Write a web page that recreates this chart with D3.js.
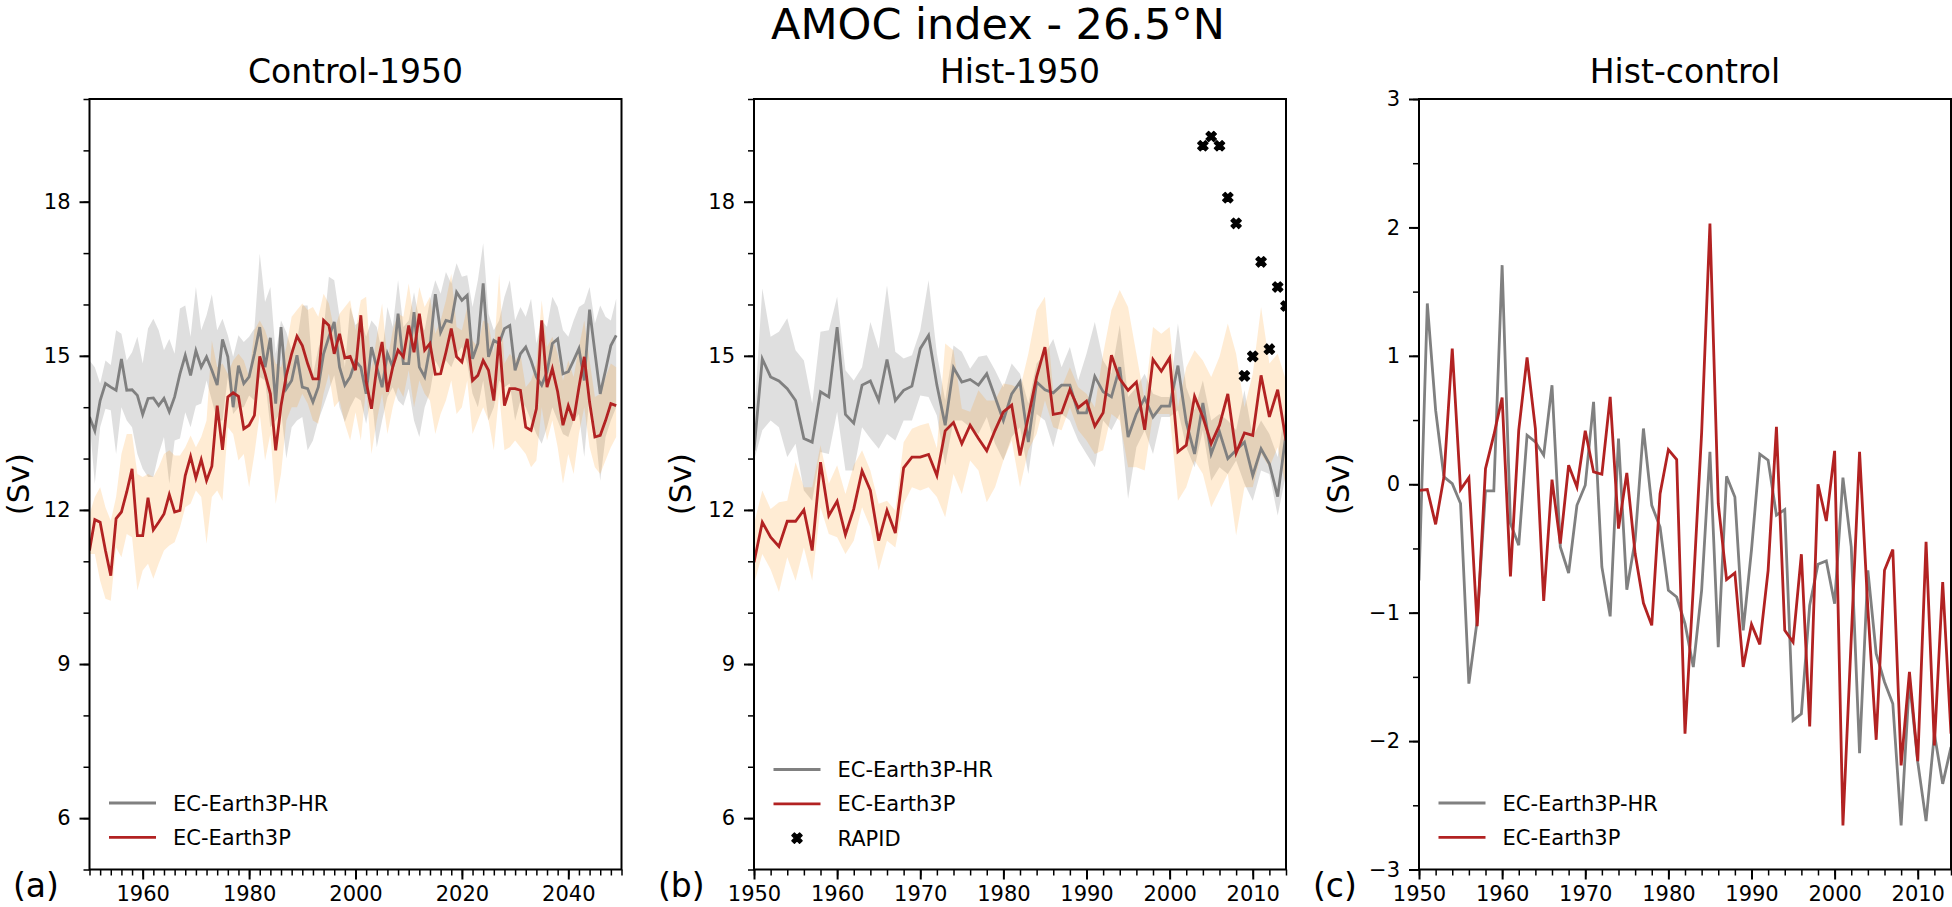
<!DOCTYPE html>
<html>
<head>
<meta charset="utf-8">
<script src="https://cdn.jsdelivr.net/npm/d3@7"></script>
<style>
  body { margin: 0; background: #fff; }
  text { font-family: "DejaVu Sans", sans-serif; fill: #000; }
</style>
</head>
<body>
<div id="chart"></div>
<script>
const w = 1952, h = 907
const plotTop = 99, plotBottom = 869.5, pw = 532

// years on the x axis
const ctrlYears = d3.range(1950, 2050)
const histYears = d3.range(1950, 2015)
const rapidYears = d3.range(2004, 2015)

// tick labels
const ctrlXTicks = [1960, 1980, 2000, 2020, 2040]
const histXTicks = [1950, 1960, 1970, 1980, 1990, 2000, 2010]
const svTicks = [6, 9, 12, 15, 18]
const diffTicks = [-3, -2, -1, 0, 1, 2, 3]

// Control-1950, EC-Earth3P-HR (mean, upper, lower)
const ctrlHR = [13.81, 13.54, 14.13, 14.46, 14.39, 14.33, 14.94, 14.33, 14.34, 14.23,
  13.86, 14.17, 14.18, 14.03, 14.17, 13.91, 14.2, 14.65, 15.01, 14.62,
  15.1, 14.78, 14.98, 14.72, 14.43, 15.32, 14.98, 14.0, 14.81, 14.46,
  14.59, 15.04, 15.56, 14.78, 15.35, 14.07, 15.56, 14.36, 14.52, 15.01,
  14.39, 14.36, 14.1, 14.39, 15.04, 15.37, 15.66, 14.78, 14.43, 14.59,
  14.9, 14.78, 14.26, 15.17, 14.78, 14.39, 15.04, 14.78, 15.82, 14.85,
  14.85, 15.85, 14.78, 14.59, 15.17, 16.2, 15.46, 15.69, 15.66, 16.24,
  16.08, 16.18, 14.94, 15.24, 16.41, 14.98, 15.3, 15.24, 15.53, 15.59,
  14.72, 15.04, 15.17, 14.91, 14.59, 14.43, 14.69, 15.24, 15.33, 14.65,
  14.69, 14.91, 15.14, 14.52, 15.9, 15.07, 14.26, 14.72, 15.2, 15.4]
const ctrlHRHi = [14.91, 14.78, 14.46, 14.91, 14.82, 15.5, 15.43, 14.91, 15.07, 15.37,
  14.85, 15.53, 15.72, 15.5, 15.11, 15.33, 15.04, 15.92, 15.98, 15.37,
  16.34, 15.5, 15.79, 16.2, 15.5, 15.72, 15.4, 14.98, 15.4, 15.27,
  15.37, 15.53, 16.99, 16.05, 16.34, 15.04, 15.69, 15.46, 15.11, 15.27,
  15.98, 15.98, 14.62, 15.14, 15.5, 16.54, 16.47, 15.76, 14.78, 15.95,
  15.6, 15.69, 15.37, 15.69, 15.56, 15.04, 15.95, 15.56, 16.47, 15.56,
  15.69, 16.24, 15.69, 15.5, 16.08, 16.47, 16.21, 16.63, 16.41, 16.8,
  16.54, 16.57, 15.95, 16.47, 17.19, 15.82, 15.5, 15.69, 16.15, 16.47,
  15.69, 15.95, 15.76, 16.11, 15.24, 15.69, 15.56, 16.15, 15.95, 15.5,
  15.37, 15.69, 15.95, 16.02, 16.34, 15.63, 15.98, 15.76, 15.69, 16.11]
const ctrlHRLo = [13.74, 12.51, 13.61, 13.97, 13.94, 13.09, 14.0, 13.74, 13.61, 13.09,
  12.8, 12.64, 12.64, 13.09, 13.42, 12.51, 13.35, 13.39, 13.9, 13.61,
  14.03, 14.07, 14.52, 14.13, 13.74, 13.74, 14.59, 13.87, 14.0, 14.0,
  14.23, 14.13, 14.59, 14.52, 13.61, 13.74, 13.94, 13.0, 13.61, 13.74,
  13.81, 13.16, 13.35, 13.74, 14.03, 14.33, 14.62, 14.0, 13.71, 14.0,
  14.2, 14.13, 13.68, 14.26, 13.22, 13.74, 14.2, 14.39, 14.13, 14.03,
  14.36, 13.74, 13.42, 14.0, 14.29, 14.91, 14.72, 14.91, 14.78, 15.04,
  15.17, 14.85, 14.26, 14.0, 14.52, 13.74, 14.0, 14.52, 14.39, 14.46,
  13.74, 14.13, 14.0, 13.74, 13.48, 13.29, 13.61, 14.0, 13.74, 13.48,
  13.42, 13.74, 13.87, 13.03, 14.26, 13.61, 12.57, 13.42, 13.74, 14.0]

// Control-1950, EC-Earth3P
const ctrlLR = [11.21, 11.81, 11.76, 11.21, 10.72, 11.83, 11.96, 12.35, 12.8, 11.5,
  11.5, 12.24, 11.61, 11.76, 11.92, 12.3, 11.96, 11.99, 12.67, 13.04,
  12.62, 12.98, 12.57, 12.85, 14.03, 13.17, 14.2, 14.28, 14.21, 13.58,
  13.65, 13.84, 14.99, 14.65, 14.26, 13.16, 14.03, 14.62, 15.04, 15.38,
  15.2, 14.85, 14.55, 14.55, 15.69, 15.59, 15.04, 15.43, 14.96, 14.99,
  14.72, 15.79, 14.5, 13.97, 14.78, 15.27, 14.3, 14.78, 15.11, 14.98,
  15.59, 15.07, 15.82, 15.11, 15.24, 14.64, 14.65, 15.07, 15.53, 14.98,
  14.88, 15.33, 14.52, 14.62, 14.91, 14.72, 14.13, 15.37, 14.03, 14.36,
  14.36, 14.33, 13.61, 13.55, 13.97, 15.69, 14.39, 14.75, 14.3, 13.65,
  14.03, 13.74, 14.39, 14.98, 14.1, 13.42, 13.45, 13.74, 14.07, 14.03]
const ctrlLRHi = [11.92, 12.25, 12.44, 12.05, 11.79, 12.25, 13.09, 13.48, 13.48, 12.7,
  12.64, 12.7, 12.64, 12.83, 13.09, 13.16, 13.06, 13.06, 13.22, 13.45,
  13.22, 13.42, 13.74, 15.3, 14.78, 14.85, 14.65, 14.91, 15.04, 14.91,
  14.59, 15.5, 15.69, 15.5, 15.17, 14.85, 14.78, 15.17, 15.76, 15.89,
  16.02, 15.89, 15.95, 15.76, 16.21, 16.02, 15.5, 15.82, 15.95, 16.08,
  15.5, 16.08, 16.15, 14.72, 15.37, 16.02, 14.91, 15.5, 15.82, 15.76,
  16.41, 15.69, 16.34, 15.95, 16.15, 15.43, 15.69, 16.08, 16.6, 15.56,
  15.5, 15.95, 15.3, 15.17, 15.69, 15.63, 15.04, 16.6, 14.85, 15.04,
  14.91, 15.04, 14.39, 14.52, 14.85, 16.08, 15.17, 15.37, 15.04, 14.52,
  14.91, 14.59, 15.17, 15.69, 14.91, 14.2, 14.26, 14.59, 14.85, 14.78]
const ctrlLRLo = [11.14, 11.14, 10.62, 10.27, 10.23, 11.27, 11.08, 11.53, 11.47, 10.43,
  10.82, 10.95, 10.66, 10.95, 11.21, 11.31, 11.37, 11.66, 12.05, 12.12,
  12.38, 12.25, 11.34, 12.25, 12.38, 12.18, 13.61, 13.48, 12.96, 13.09,
  12.44, 13.09, 13.87, 12.96, 13.48, 12.12, 12.7, 13.74, 14.0, 14.0,
  14.26, 14.07, 13.74, 13.68, 14.26, 14.65, 14.0, 14.13, 13.68, 13.35,
  13.9, 13.35, 14.39, 13.09, 13.74, 14.26, 13.48, 14.0, 14.39, 14.2,
  14.72, 14.0, 14.52, 14.26, 14.13, 13.48, 13.87, 14.13, 14.52, 13.87,
  14.0, 14.52, 13.48, 13.74, 14.0, 13.74, 13.16, 14.26, 13.16, 13.22,
  13.35, 13.22, 13.09, 12.83, 12.96, 14.0, 13.35, 13.74, 13.22, 12.51,
  13.09, 12.7, 13.48, 14.0, 13.22, 12.83, 12.7, 12.96, 13.22, 13.42]

// Hist-1950, EC-Earth3P-HR
const histHR = [13.16, 14.94, 14.59, 14.51, 14.36, 14.13, 13.39, 13.32, 14.3, 14.2,
  15.56, 13.86, 13.69, 14.43, 14.51, 14.13, 14.93, 14.13, 14.33, 14.41,
  15.14, 15.4, 14.43, 13.65, 14.77, 14.49, 14.54, 14.43, 14.65, 14.2,
  13.74, 14.26, 14.49, 13.32, 14.49, 14.34, 14.28, 14.43, 14.43, 13.89,
  13.89, 14.6, 14.3, 14.2, 14.78, 13.42, 13.87, 14.18, 13.81, 14.02,
  14.02, 14.81, 13.71, 13.09, 14.08, 13.09, 13.52, 13.0, 13.16, 13.32,
  12.67, 13.19, 12.9, 12.26, 13.48]
const histHRHi = [13.74, 16.31, 15.37, 15.47, 15.73, 15.11, 14.91, 14.07, 15.47, 15.5,
  16.15, 14.72, 14.52, 14.78, 15.66, 15.14, 16.37, 15.08, 14.95, 15.01,
  15.5, 16.47, 15.04, 14.13, 15.2, 15.08, 14.75, 14.98, 15.01, 14.72,
  14.39, 14.85, 14.65, 14.07, 14.85, 15.04, 15.33, 14.78, 15.17, 14.52,
  15.04, 15.66, 14.91, 14.65, 15.6, 14.2, 14.39, 14.65, 14.26, 14.2,
  14.2, 15.63, 14.39, 13.94, 14.52, 13.74, 13.87, 13.74, 13.55, 14.33,
  13.42, 13.74, 13.48, 13.03, 14.07]
const histHRLo = [12.96, 13.55, 13.74, 13.61, 13.03, 13.29, 12.38, 12.18, 13.13, 13.09,
  13.91, 12.77, 12.77, 13.61, 13.39, 13.19, 13.48, 13.35, 13.74, 13.74,
  14.23, 14.2, 13.84, 12.87, 13.74, 13.74, 13.61, 13.48, 13.81, 13.29,
  12.96, 13.42, 13.61, 12.7, 13.87, 13.74, 13.22, 13.87, 13.74, 13.35,
  13.09, 12.83, 13.74, 13.55, 13.87, 12.22, 13.22, 13.55, 13.09, 13.81,
  13.81, 13.94, 13.22, 12.83, 13.55, 12.57, 12.83, 12.7, 12.96, 12.51,
  12.18, 12.77, 12.7, 11.89, 12.7]

// Hist-1950, EC-Earth3P
const histLR = [10.98, 11.76, 11.47, 11.29, 11.78, 11.78, 12.0, 11.21, 12.93, 11.89,
  12.17, 11.52, 12.02, 12.76, 12.38, 11.4, 11.99, 11.55, 12.82, 13.03,
  13.03, 13.08, 12.67, 13.54, 13.7, 13.29, 13.65, 13.39, 13.15, 13.55,
  13.91, 14.04, 13.06, 13.81, 14.59, 15.17, 13.86, 13.89, 14.34, 13.99,
  14.12, 13.63, 13.89, 15.01, 14.55, 14.33, 14.49, 13.56, 14.93, 14.7,
  14.96, 13.13, 13.26, 14.21, 13.81, 13.29, 13.65, 14.26, 13.11, 13.5,
  13.45, 14.62, 13.81, 14.34, 13.35]
const histLRHi = [11.73, 12.38, 12.02, 12.15, 12.18, 12.93, 12.44, 12.44, 13.26, 12.51,
  12.87, 12.31, 12.87, 13.16, 12.77, 12.12, 12.18, 11.99, 13.32, 13.58,
  13.65, 13.69, 13.2, 15.24, 15.11, 13.97, 13.91, 14.33, 14.13, 14.13,
  14.46, 14.43, 14.36, 15.04, 15.89, 16.15, 14.3, 14.39, 14.78, 14.39,
  14.26, 14.0, 15.04, 15.89, 16.28, 15.95, 15.04, 14.13, 15.56, 15.43,
  15.56, 14.0, 14.78, 15.11, 14.91, 14.59, 14.98, 15.63, 15.04, 14.0,
  14.65, 15.95, 14.85, 15.04, 14.52]
const histLRLo = [10.56, 11.14, 10.84, 10.4, 11.08, 10.62, 11.27, 10.62, 12.05, 11.53,
  11.47, 11.14, 11.4, 12.05, 11.66, 10.82, 11.4, 11.27, 12.12, 12.44,
  12.38, 12.44, 12.25, 11.86, 12.7, 12.31, 12.96, 12.77, 12.15, 12.44,
  12.96, 13.35, 12.44, 13.16, 13.48, 14.13, 13.61, 13.55, 14.0, 13.55,
  13.35, 13.09, 13.16, 13.87, 13.74, 12.83, 12.83, 12.77, 13.87, 13.87,
  13.87, 12.18, 12.44, 12.96, 12.7, 12.05, 12.38, 12.7, 11.5, 12.44,
  12.44, 13.09, 12.83, 13.22, 12.44]

// RAPID observations
const rapidSv = [19.09, 19.27, 19.09, 18.08, 17.58, 14.61, 14.99, 16.83, 15.13, 16.34, 15.97]

// Hist-control differences
const diffHR = [-0.75, 1.408, 0.577, 0.057, 0.005, -0.15, -1.553, -1.06, -0.052, -0.052,
  1.706, -0.306, -0.475, 0.382, 0.33, 0.226, 0.771, -0.488, -0.691, -0.164,
  -0.008, 0.642, -0.644, -1.029, 0.356, -0.821, -0.436, 0.434, -0.164, -0.333,
  -0.826, -0.878, -1.086, -1.423, -0.826, 0.252, -1.268, 0.062, -0.099, -1.138,
  -0.51, 0.234, 0.187, -0.241, -0.197, -1.839, -1.787, -0.943, -0.623, -0.597,
  -0.93, 0.052, -0.488, -2.094, -0.67, -1.32, -1.54, -1.709, -2.657, -1.527,
  -2.164, -2.623, -1.943, -2.333, -2.047]
const diffLR = [-0.047, -0.041, -0.312, 0.057, 1.057, -0.041, 0.052, -1.106, 0.122, 0.382,
  0.675, -0.717, 0.421, 0.987, 0.434, -0.909, 0.036, -0.462, 0.148, -0.021,
  0.416, 0.096, 0.078, 0.68, -0.345, 0.088, -0.54, -0.925, -1.099, -0.073,
  0.27, 0.192, -1.943, -0.8, 0.4, 2.031, -0.15, -0.743, -0.691, -1.423,
  -1.091, -1.247, -0.67, 0.447, -1.138, -1.229, -0.545, -1.886, 0.0, -0.286,
  0.26, -2.657, -1.2, 0.252, -0.97, -1.99, -0.67, -0.509, -2.19, -1.462,
  -2.156, -0.449, -2.034, -0.761, -1.943]

const grey = "#808080", red = "#b22222"

const panels = [
  {id: "a", left: 89.5, years: ctrlYears, xDomain: [1950, 2050], xTicks: ctrlXTicks,
   xMinor: d3.range(1950, 2051, 2), yDomain: [5, 20], yTicks: svTicks, yMinor: d3.range(5, 21, 1),
   title: "Control-1950", tagX: 13, ylabX: 29, legendY: 803,
   hr: ctrlHR, hrHi: ctrlHRHi, hrLo: ctrlHRLo, lr: ctrlLR, lrHi: ctrlLRHi, lrLo: ctrlLRLo},
  {id: "b", left: 754, years: histYears, xDomain: [1950, 2014], xTicks: histXTicks,
   xMinor: d3.range(1950, 2015, 2), yDomain: [5, 20], yTicks: svTicks, yMinor: d3.range(5, 21, 1),
   title: "Hist-1950", tagX: 658, ylabX: 691, legendY: 769.5, rapid: true,
   hr: histHR, hrHi: histHRHi, hrLo: histHRLo, lr: histLR, lrHi: histLRHi, lrLo: histLRLo},
  {id: "c", left: 1419, years: histYears, xDomain: [1950, 2014], xTicks: histXTicks,
   xMinor: d3.range(1950, 2015, 2), yDomain: [-3, 3], yTicks: diffTicks, yMinor: d3.range(-3, 3.01, 0.5),
   title: "Hist-control", tagX: 1313, ylabX: 1349, legendY: 803,
   hr: diffHR, lr: diffLR}
]

const svg = d3.select("#chart").append("svg")
  .attr("width", w)
  .attr("height", h)

svg.append("text")
  .attr("x", 998)
  .attr("y", 39)
  .attr("text-anchor", "middle")
  .attr("font-size", 43)
  .text("AMOC index - 26.5°N")

panels.forEach(drawPanel)

function drawPanel(p) {
  const x = d3.scaleLinear().domain(p.xDomain).range([p.left, p.left + pw])
  const y = d3.scaleLinear().domain(p.yDomain).range([plotBottom, plotTop])
  const g = svg.append("g").attr("class", "panel-" + p.id)

  g.append("clipPath").attr("id", "clip-" + p.id)
    .append("rect")
    .attr("x", p.left).attr("y", plotTop)
    .attr("width", pw).attr("height", plotBottom - plotTop)

  const plot = g.append("g").attr("clip-path", "url(#clip-" + p.id + ")")

  const band = (hi, lo) => d3.area()
    .x((d, i) => x(p.years[i]))
    .y0((d, i) => y(lo[i]))
    .y1((d, i) => y(hi[i]))
  const line = d3.line().x((d, i) => x(p.years[i])).y(d => y(d))

  if (p.hrHi) {
    plot.append("path").datum(p.hrHi)
      .attr("d", band(p.hrHi, p.hrLo))
      .attr("fill", grey).attr("fill-opacity", 0.25)
    plot.append("path").datum(p.lrHi)
      .attr("d", band(p.lrHi, p.lrLo))
      .attr("fill", "#ff8c00").attr("fill-opacity", 0.17)
  }

  plot.append("path").datum(p.hr)
    .attr("d", line)
    .attr("fill", "none").attr("stroke", grey).attr("stroke-width", 2.8)
  plot.append("path").datum(p.lr)
    .attr("d", line)
    .attr("fill", "none").attr("stroke", red).attr("stroke-width", 2.8)

  // filled "X" marker like matplotlib's
  const cross = d3.symbol().type(d3.symbolCross).size(66)
  if (p.rapid) {
    plot.selectAll("path.rapid")
      .data(rapidSv)
      .enter()
      .append("path")
      .attr("class", "rapid")
      .attr("d", cross)
      .attr("fill", "#000")
      .attr("stroke", "#000").attr("stroke-width", 1.3).attr("stroke-linejoin", "round")
      .attr("transform", (d, i) => "translate(" + x(rapidYears[i]) + "," + y(d) + ") rotate(45)")
  }

  // axes: minor ticks first, then labelled major ticks
  const styleAxis = (a, width) => {
    a.select(".domain").remove()
    a.selectAll("line").attr("stroke-width", width)
    a.selectAll("text").attr("font-size", 21).attr("font-family", "DejaVu Sans")
  }
  g.append("g").attr("transform", "translate(0," + plotBottom + ")")
    .call(d3.axisBottom(x).tickValues(p.xMinor).tickSize(6).tickFormat(""))
    .call(a => styleAxis(a, 1.5))
  g.append("g").attr("transform", "translate(0," + plotBottom + ")")
    .call(d3.axisBottom(x).tickValues(p.xTicks).tickSize(10).tickPadding(7).tickFormat(d3.format("d")))
    .call(a => styleAxis(a, 2))
  g.append("g").attr("transform", "translate(" + p.left + ",0)")
    .call(d3.axisLeft(y).tickValues(p.yMinor).tickSize(6).tickFormat(""))
    .call(a => styleAxis(a, 1.5))
  g.append("g").attr("transform", "translate(" + p.left + ",0)")
    .call(d3.axisLeft(y).tickValues(p.yTicks).tickSize(10).tickPadding(9).tickFormat(d3.format("d")))
    .call(a => styleAxis(a, 2))

  g.append("rect")
    .attr("x", p.left).attr("y", plotTop)
    .attr("width", pw).attr("height", plotBottom - plotTop)
    .attr("fill", "none").attr("stroke", "#000").attr("stroke-width", 2)

  g.append("text")
    .attr("x", p.left + pw / 2)
    .attr("y", 83)
    .attr("text-anchor", "middle")
    .attr("font-size", 33)
    .text(p.title)

  g.append("text")
    .attr("transform", "translate(" + p.ylabX + "," + ((plotTop + plotBottom) / 2) + ") rotate(-90)")
    .attr("text-anchor", "middle")
    .attr("font-size", 31)
    .text("(Sv)")

  g.append("text")
    .attr("x", p.tagX)
    .attr("y", 897)
    .attr("font-size", 33)
    .text("(" + p.id + ")")

  // legend
  const items = [{name: "EC-Earth3P-HR", color: grey}, {name: "EC-Earth3P", color: red}]
  if (p.rapid) items.push({name: "RAPID", marker: true})
  const lx = p.left + 19.5
  const lg = g.selectAll("g.legend")
    .data(items)
    .enter()
    .append("g")
    .attr("class", "legend")
    .attr("transform", (d, i) => "translate(" + lx + "," + (p.legendY + i * 34.3) + ")")
  lg.filter(d => !d.marker).append("line")
    .attr("x1", 0).attr("x2", 47)
    .attr("stroke", d => d.color).attr("stroke-width", 2.8)
  lg.filter(d => d.marker).append("path")
    .attr("d", cross)
    .attr("fill", "#000")
    .attr("stroke", "#000").attr("stroke-width", 1.3).attr("stroke-linejoin", "round")
    .attr("transform", "translate(23.5,0) rotate(45)")
  lg.append("text")
    .attr("x", 64)
    .attr("y", 7.5)
    .attr("font-size", 21)
    .text(d => d.name)
}
</script>
</body>
</html>
